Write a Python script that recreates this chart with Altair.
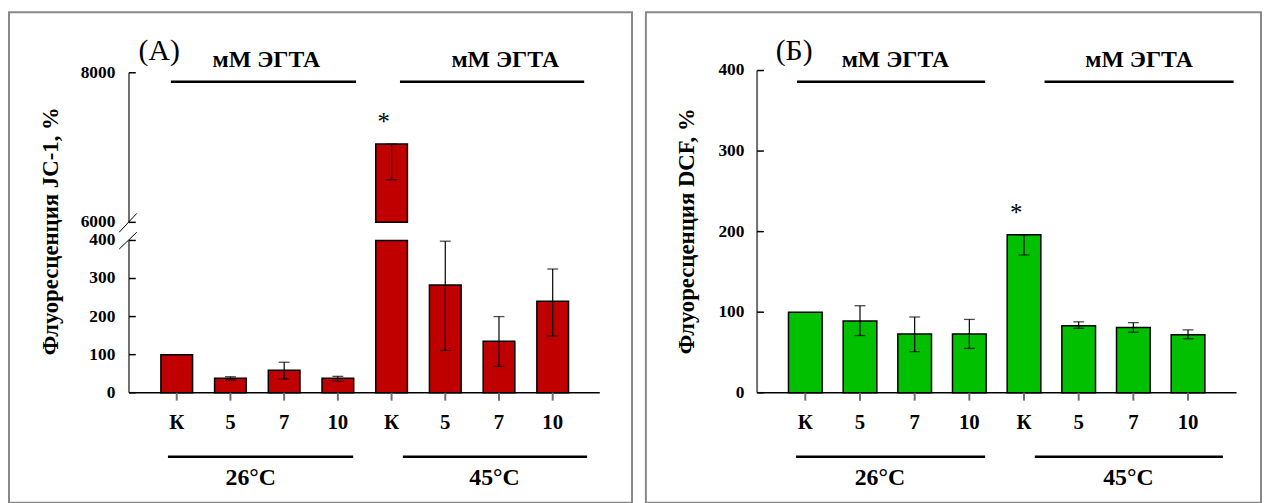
import altair as alt
import pandas as pd

# ---------------- data ----------------
categories = ["К", "5", "7", "10", "К", "5", "7", "10"]
temperatures = ["26°C", "45°C"]
egta_label = "мМ ЭГТА"
significant = [False, False, False, False, True, False, False, False]

# Panel A: JC-1 fluorescence, %
jc1_mean = [100, 38, 59, 38, 7046, 283, 135, 240]
jc1_err_low = [None, 33, 36, 30, 6570, 111, 69, 149]
jc1_err_high = [None, 42, 80, 43, 7046, 398, 200, 325]
jc1_ticks_lower = [0, 100, 200, 300, 400]
jc1_ticks_upper = [6000, 8000]

# Panel B: DCF fluorescence, %
dcf_mean = [100, 89, 73, 73, 196, 83, 81, 72]
dcf_err_low = [None, 71, 51, 55, 171, 80, 75, 67]
dcf_err_high = [None, 108, 94, 91, 196, 88, 87, 78]
dcf_ticks = [0, 100, 200, 300, 400]

# ---------------- layout ----------------
FONT = "Liberation Serif"
TOP = 10
VIEW_H = 495


class Geo:
    def __init__(self, left, width, x0, dx, y0, ppu):
        self.left, self.width = left, width
        self.x0, self.dx, self.y0, self.ppu = x0, dx, y0, ppu
        self.xdom = [self.px(left), self.px(left + width)]
        self.ydom = [self.py(TOP + VIEW_H), self.py(TOP)]

    def px(self, page_x):
        return (page_x - self.x0) / self.dx

    def py(self, page_y):
        return (self.y0 - page_y) / self.ppu


GA = Geo(8, 629, 175, 55.1, 394, 0.38425)
GB = Geo(651, 621, 809.5, 56.1, 394, 0.8131)

# broken axis of panel A
LOW_MAX = 400
UP_MIN, UP_MAX = 6000, 8000
UP_MIN_PAGE, UP_MAX_PAGE = 222, 71


def brk(v):
    if v <= LOW_MAX:
        return v
    a = GA.py(UP_MIN_PAGE)
    b = GA.py(UP_MAX_PAGE)
    return a + (v - UP_MIN) * (b - a) / (UP_MAX - UP_MIN)


def enc_x(geo, field="x"):
    return alt.X(f"{field}:Q", scale=alt.Scale(domain=geo.xdom, nice=False, zero=False), axis=None)


def enc_y(geo, field="y"):
    return alt.Y(f"{field}:Q", scale=alt.Scale(domain=geo.ydom, nice=False, zero=False), axis=None)


def rule_layer(df, geo, **style):
    enc = dict(x=enc_x(geo), y=enc_y(geo))
    if "x2" in df.columns:
        enc["x2"] = alt.X2("x2:Q")
    if "y2" in df.columns:
        enc["y2"] = alt.Y2("y2:Q")
    return alt.Chart(df).mark_rule(**style).encode(**enc)


def text_layer(df, geo, **style):
    return alt.Chart(df).mark_text(font=FONT, **style).encode(
        x=enc_x(geo), y=enc_y(geo), text="t:N"
    )


def build_panel(geo, mean, elo, ehi, color, tf, ticks, segments, axis_px, xend_px,
                label_px, letter, letter_px, title, title_px, egta_px, egta_lines,
                temp_px, temp_lines, bar_w, break_marks=None):
    ax = geo.px(axis_px)
    # bars
    rows = []
    for i, v in enumerate(mean):
        rows.append(dict(x=i, y=0, y2=tf(min(v, LOW_MAX))))
        if v > UP_MIN:
            rows.append(dict(x=i, y=tf(UP_MIN), y2=tf(v)))
    bars = alt.Chart(pd.DataFrame(rows)).mark_bar(
        size=bar_w, color=color, stroke="black", strokeWidth=1.5
    ).encode(x=enc_x(geo), y=enc_y(geo), y2="y2:Q")

    # error bars
    er, caps = [], []
    for i, (lo, hi) in enumerate(zip(elo, ehi)):
        if lo is None:
            continue
        er.append(dict(x=i, y=tf(lo), y2=tf(hi)))
        caps.append(dict(x=i, y=tf(lo)))
        caps.append(dict(x=i, y=tf(hi)))
    err_rule = rule_layer(pd.DataFrame(er), geo, color="black", strokeWidth=1.2)
    err_caps = alt.Chart(pd.DataFrame(caps)).mark_tick(
        orient="horizontal", size=11, thickness=1.3, color="black"
    ).encode(x=enc_x(geo), y=enc_y(geo))

    # axes
    seg = pd.DataFrame([dict(x=ax, y=tf(a), y2=tf(b)) for a, b in segments])
    yaxis = rule_layer(seg, geo, color="#6e6e6e", strokeWidth=2)
    xaxis = rule_layer(pd.DataFrame([dict(x=ax, x2=geo.px(xend_px), y=0)]), geo,
                       color="black", strokeWidth=1.6)
    ytk = pd.DataFrame([dict(x=ax, x2=ax + 7 / geo.dx, y=tf(t)) for t in ticks])
    ytick_marks = rule_layer(ytk, geo, color="black", strokeWidth=1.5)
    xtk = pd.DataFrame([dict(x=i, y=0, y2=-8 / geo.ppu) for i in range(len(categories))])
    xtick_marks = rule_layer(xtk, geo, color="#6e6e6e", strokeWidth=2)
    ylab = pd.DataFrame([dict(x=geo.px(label_px), y=tf(t), t=str(t)) for t in ticks])
    ylabels = text_layer(ylab, geo, align="right", baseline="middle",
                         fontSize=17.5, fontWeight="bold", color="black")
    xlab = pd.DataFrame([dict(x=i, y=geo.py(431), t=c) for i, c in enumerate(categories)])
    xlabels = text_layer(xlab, geo, align="center", baseline="alphabetic",
                         fontSize=21, fontWeight="bold", color="black")

    # titles and annotations
    ttl = text_layer(pd.DataFrame([dict(x=geo.px(title_px), y=geo.py(231), t=title)]), geo,
                     angle=270, align="center", baseline="middle",
                     fontSize=23, fontWeight="bold", color="black")
    let = text_layer(pd.DataFrame([dict(x=geo.px(letter_px), y=geo.py(58), t=letter)]), geo,
                     align="center", baseline="alphabetic", fontSize=30, color="black")
    eg = text_layer(pd.DataFrame([dict(x=geo.px(p), y=geo.py(65.5), t=egta_label) for p in egta_px]),
                    geo, align="center", baseline="alphabetic", fontSize=24,
                    fontWeight="bold", color="black")
    eg_l = rule_layer(pd.DataFrame([dict(x=geo.px(a), x2=geo.px(b), y=geo.py(80)) for a, b in egta_lines]),
                      geo, color="black", strokeWidth=2.5)
    tp = text_layer(pd.DataFrame([dict(x=geo.px(p), y=geo.py(487), t=t) for p, t in zip(temp_px, temperatures)]),
                    geo, align="center", baseline="alphabetic", fontSize=24,
                    fontWeight="bold", color="black")
    tp_l = rule_layer(pd.DataFrame([dict(x=geo.px(a), x2=geo.px(b), y=geo.py(458.7)) for a, b in temp_lines]),
                      geo, color="black", strokeWidth=2.5)
    stars = pd.DataFrame([dict(x=i, y=tf(ehi[i]), t="*") for i, s in enumerate(significant) if s])
    star = text_layer(stars, geo, align="center", baseline="alphabetic", fontSize=25,
                      dx=-8, dy=-14, color="black")

    layers = [bars, err_rule, err_caps, yaxis, xaxis, ytick_marks, xtick_marks,
              ylabels, xlabels, ttl, let, eg, eg_l, tp, tp_l, star]
    if break_marks is not None:
        bm = pd.DataFrame([dict(x=geo.px(a), y=geo.py(b), x2=geo.px(c), y2=geo.py(d))
                           for a, b, c, d in break_marks])
        layers.append(rule_layer(bm, geo, color="black", strokeWidth=1))
    return alt.layer(*layers).properties(width=geo.width, height=VIEW_H)


panel_a = build_panel(
    GA, jc1_mean, jc1_err_low, jc1_err_high, "#c00000", brk,
    jc1_ticks_lower + jc1_ticks_upper, [(0, LOW_MAX), (UP_MIN, UP_MAX)],
    126, 609, 112, "(А)", 157, "Флуоресценция JC-1, %", 46,
    [267, 512], [(169, 359), (404, 593)],
    [251, 501], [(166, 356), (407, 596)], 32,
    break_marks=[(116, 232, 134, 213), (116, 249, 134, 232)],
)

panel_b = build_panel(
    GB, dcf_mean, dcf_err_low, dcf_err_high, "#00c000", lambda v: v,
    dcf_ticks, [(0, 400)],
    760, 1252, 747, "(Б)", 798, "Флуоресценция DCF, %", 688,
    [902, 1152], [(801, 994), (1055, 1249)],
    [886, 1141], [(800, 994), (1045, 1238)], 34,
)

chart = alt.hconcat(panel_a, panel_b, spacing=14, bounds="flush").properties(
    padding={"left": 0, "top": TOP - 9, "right": 0, "bottom": 0}
).configure_view(stroke="#888888", strokeWidth=2)

chart.save("out.html", embed_options={"renderer": "svg", "actions": False})
